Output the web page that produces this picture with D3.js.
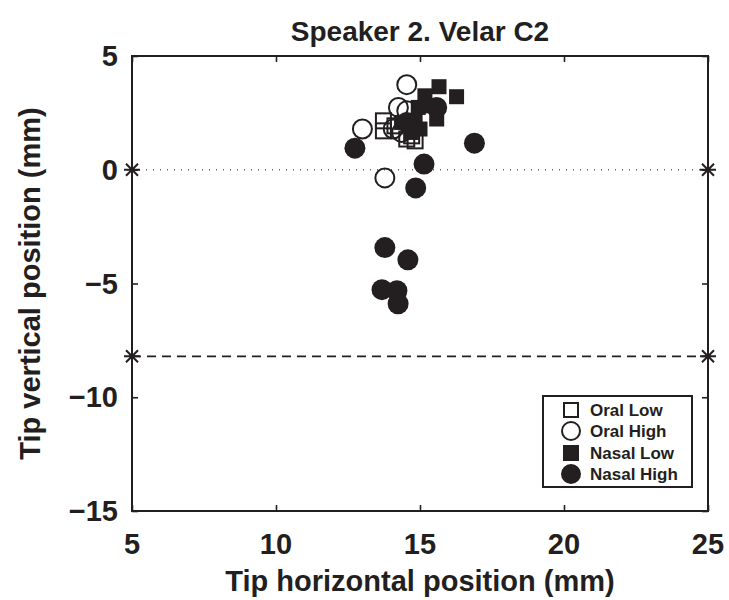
<!DOCTYPE html>
<html><head><meta charset="utf-8">
<script src="https://cdn.jsdelivr.net/npm/d3@7"></script>
<style>body{margin:0;background:#fff}svg{display:block}text{font-family:"Liberation Sans",Arial,sans-serif;font-weight:bold;fill:#231f20}</style>
</head><body><svg id="c" width="729" height="600"></svg>
<script>
const title = "Speaker 2. Velar C2";
const xLabel = "Tip horizontal position (mm)";
const yLabel = "Tip vertical position (mm)";
const xTicks = [5, 10, 15, 20, 25];
const yTicks = [5, 0, -5, -10, -15];
const seriesNames = ["Oral Low", "Oral High", "Nasal Low", "Nasal High"];
const oralLowX = [13.73, 13.73, 14.54, 14.83, 14.13, 14.71];
const oralLowY = [2.15, 1.71, 1.35, 1.27, 1.93, 1.49];
const oralHighX = [14.54, 13.0, 13.78, 14.25, 14.54, 14.07, 14.36];
const oralHighY = [3.74, 1.79, -0.36, 2.74, 2.59, 1.79, 1.64];
const nasalLowX = [15.66, 16.27, 15.17, 15.35, 15.58, 14.94, 14.83, 15.0, 14.36, 14.71];
const nasalLowY = [3.65, 3.21, 3.25, 2.81, 2.23, 2.74, 2.15, 1.79, 2.08, 1.64];
const nasalHighX = [12.74, 16.89, 15.14, 14.85, 13.78, 14.58, 13.68, 14.20, 14.24, 15.58, 14.54];
const nasalHighY = [0.95, 1.17, 0.25, -0.80, -3.42, -3.96, -5.27, -5.32, -5.89, 2.74, 2.08];
const refLevels = [0, -8.2];

const ink = "#231f20";
const svg = d3.select("#c");
const x = d3.scaleLinear().domain([5, 25]).range([132, 708]);
const y = d3.scaleLinear().domain([-15, 5]).range([511, 56]);

// reference lines
svg.append("line").attr("x1", x(5)).attr("x2", x(25)).attr("y1", y(refLevels[0])).attr("y2", y(refLevels[0]))
  .attr("stroke", "#666").attr("stroke-width", 1.6).attr("stroke-dasharray", "1,6");
svg.append("line").attr("x1", x(5)).attr("x2", x(25)).attr("y1", y(refLevels[1])).attr("y2", y(refLevels[1]))
  .attr("stroke", ink).attr("stroke-width", 1.8).attr("stroke-dasharray", "9,6");

// axes box
svg.append("rect").attr("x", x(5)).attr("y", y(5)).attr("width", x(25) - x(5)).attr("height", y(-15) - y(5))
  .attr("fill", "none").attr("stroke", ink).attr("stroke-width", 2);

// axes with inward ticks
const axB = svg.append("g").attr("transform", `translate(0,${y(-15)})`).call(d3.axisBottom(x).tickValues(xTicks).tickSize(-6).tickFormat(""));
const axT = svg.append("g").attr("transform", `translate(0,${y(5)})`).call(d3.axisTop(x).tickValues(xTicks).tickSize(-6).tickFormat(""));
const axL = svg.append("g").attr("transform", `translate(${x(5)},0)`).call(d3.axisLeft(y).tickValues(yTicks).tickSize(-6).tickFormat(""));
const axR = svg.append("g").attr("transform", `translate(${x(25)},0)`).call(d3.axisRight(y).tickValues(yTicks).tickSize(-6).tickFormat(""));
[axB, axT, axL, axR].forEach(a => { a.select(".domain").remove(); a.selectAll("line").attr("stroke", ink).attr("stroke-width", 1.6); });

// tick labels
svg.selectAll(".xt").data(xTicks).join("text").attr("class", "xt")
  .attr("x", d => x(d)).attr("y", 554).attr("text-anchor", "middle").attr("font-size", 29).text(d => d);
svg.selectAll(".yt").data(yTicks).join("text").attr("class", "yt")
  .attr("x", 118).attr("y", d => y(d) + 10).attr("text-anchor", "end").attr("font-size", 29)
  .text(d => d < 0 ? "\u2212" + Math.abs(d) : d);

// titles
svg.append("text").attr("x", 420).attr("y", 41).attr("text-anchor", "middle").attr("font-size", 28).text(title);
svg.append("text").attr("x", 420).attr("y", 591).attr("text-anchor", "middle").attr("font-size", 29).text(xLabel);
svg.append("text").attr("transform", `translate(40,${(y(5) + y(-15)) / 2}) rotate(-90)`)
  .attr("text-anchor", "middle").attr("font-size", 29).text(yLabel);

// asterisks at line ends
function star(cx, cy) {
  const s = 8, d = 6;
  const p = `M${cx - s},${cy}L${cx + s},${cy}M${cx},${cy - s}L${cx},${cy + s}M${cx - d},${cy - d}L${cx + d},${cy + d}M${cx - d},${cy + d}L${cx + d},${cy - d}`;
  svg.append("path").attr("d", p).attr("stroke", ink).attr("stroke-width", 2).attr("fill", "none");
}
refLevels.forEach(v => { star(x(5), y(v)); star(x(25), y(v)); });

// markers
const sq = 15, rad = 9.5;
const zip = (a, b) => a.map((v, i) => [v, b[i]]);
svg.append("g").selectAll("rect").data(zip(oralLowX, oralLowY)).join("rect")
  .attr("x", d => x(d[0]) - sq / 2).attr("y", d => y(d[1]) - sq / 2).attr("width", sq).attr("height", sq)
  .attr("fill", "none").attr("stroke", ink).attr("stroke-width", 2);
svg.append("g").selectAll("circle").data(zip(oralHighX, oralHighY)).join("circle")
  .attr("cx", d => x(d[0])).attr("cy", d => y(d[1])).attr("r", rad)
  .attr("fill", "none").attr("stroke", ink).attr("stroke-width", 2);
svg.append("g").selectAll("rect").data(zip(nasalLowX, nasalLowY)).join("rect")
  .attr("x", d => x(d[0]) - sq / 2).attr("y", d => y(d[1]) - sq / 2).attr("width", sq).attr("height", sq)
  .attr("fill", ink);
svg.append("g").selectAll("circle").data(zip(nasalHighX, nasalHighY)).join("circle")
  .attr("cx", d => x(d[0])).attr("cy", d => y(d[1])).attr("r", 10.5).attr("fill", ink);

// legend
const lg = svg.append("g");
lg.append("rect").attr("x", 543).attr("y", 396).attr("width", 149).attr("height", 91)
  .attr("fill", "#fff").attr("stroke", ink).attr("stroke-width", 2);
const rows = [410, 431, 453, 474];
seriesNames.forEach((n, i) => {
  const cy = rows[i], cx = 571;
  if (i === 0) lg.append("rect").attr("x", cx - 7).attr("y", cy - 7).attr("width", 14).attr("height", 14).attr("fill", "none").attr("stroke", ink).attr("stroke-width", 2);
  if (i === 1) lg.append("circle").attr("cx", cx).attr("cy", cy).attr("r", 9).attr("fill", "none").attr("stroke", ink).attr("stroke-width", 2);
  if (i === 2) lg.append("rect").attr("x", cx - 8).attr("y", cy - 8).attr("width", 16).attr("height", 16).attr("fill", ink);
  if (i === 3) lg.append("circle").attr("cx", cx).attr("cy", cy).attr("r", 10).attr("fill", ink);
  lg.append("text").attr("x", 590).attr("y", cy + 6).attr("font-size", 17).text(n);
});
</script></body></html>
